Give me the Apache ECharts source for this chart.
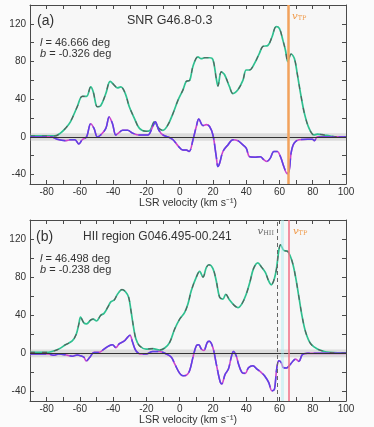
<!DOCTYPE html>
<html>
<head>
<meta charset="utf-8">
<script src="https://cdn.jsdelivr.net/npm/echarts@6/dist/echarts.min.js"></script>
<style>
html,body{margin:0;padding:0;background:#fbfbfb;}
#c{width:374px;height:427px;}
</style>
</head>
<body>
<div id="c"></div>
<script>
// ---- Data ----
var xTicks = [-80,-70,-60,-50,-40,-30,-20,-10,0,10,20,30,40,50,60,70,80,90,100];
var xLabels = [-80,-60,-40,-20,0,20,40,60,80,100];
var yTicks = [-40,-20,0,20,40,60,80,100,120];
var yLabels = [-40,0,40,80,120];

// Panel (a) SNR G46.8-0.3 : emission
var velEmA = [-90,-80,-75,-71.7,-68.7,-65.7,-61.6,-58.6,-56,-53.5,-52,-49.5,-47.5,-44.4,-41.8,-39.4,-37.4,-35.4,-32.7,-30.3,-27.3,-24.2,-20.2,-17.8,-15.2,-12.5,-10.1,-7,-4,-1,2,4,6,8,11,13,15,18,20,22,23,25,27,30,32,35,38,40,42,45,48,50,53,55.5,58,60,62,63.6,65,67,69,70.7,72.7,75,77.8,80.8,82.8,86.9,90,95,100];
var tbEmA  = [1,1,1,4,9,16,32,43,43,53,48,32,33,46,59,55,52,53,46,32,20,9,6,7,16,9,7,13,25,39,50,59,60,75,85,83,84,84,82,62,54,69,66,53,46,50,60,71,71,78,89,96,97,106,117,115,103,92,80,88,83,67,46,25,9,2,3,2,1,0,0];
// Panel (a) : absorption
var velAbA = [-90,-80,-77,-73.7,-68.7,-65.7,-63,-60.6,-58.6,-56,-53.5,-51.5,-49.5,-47.5,-44.4,-42.4,-40.4,-38.4,-36.8,-34.3,-31.3,-28.3,-24.2,-19.2,-16.2,-14.7,-12.5,-10,-7,-4,-1,2,4,5.7,8,10,11.5,14,16,18,20,22,23,24,26,29,32,35,37.4,40,42,45,48.5,50.5,52.5,54.5,56.6,58.6,60.6,62.6,64.6,65.9,67,68.7,71.7,76.8,79.8,81,82.8,90,100];
var tbAbA  = [0,0,0,-2.5,-4,-3,-3,-7.5,-3,0,14,9,0,2,9,21,14,2,4,7,7,4,2,2,11,16,7,2,0,-3,-9.5,-14,-14,-15.5,-3,11,19,12,13,11,2,-21,-31.5,-28,-15.5,-8.5,-3,-4,-7.5,-12,-21,-21.5,-21,-24,-26,-22.5,-15.5,-15.5,-21,-31.5,-39,-35,-17,-7,-3,-2.5,-2.5,-4,0,0,0];

// Panel (b) HII region G046.495-00.241 : emission
var velEmB = [-90,-80,-76.8,-72.7,-68.7,-64.6,-62.2,-60.6,-59.6,-57.6,-56,-53.5,-52,-50,-47.5,-45.5,-43.4,-41.4,-39.4,-37.4,-34.7,-32.7,-30.7,-29.3,-27.7,-26.3,-24.2,-20.2,-16.2,-12,-9,-6,-3,0,3,5,7,10,12,14,16,17.6,20,22,24,26,27.7,30,33,35,37.4,40,42.4,44.4,47,49,51.5,53.5,55,57.6,59.6,60.6,62.6,65,67.7,69.7,71.7,73.7,75.8,78.8,82.8,86.9,90,95,100];
var tbEmB  = [1,1,2,4.5,9,13,20,31,38,32,31,35,36,34,40,42,48,54,56,62,67,65,59,45,27,15,8,4.5,5,3.5,5.6,11.6,25.6,36,43,52,66,80,86,80,90,93,89,76,59,57,62,56,50,48,52,62,76,89,95,91,85,76,72,83,108,114,108,107,96,80,59,38,22,10,4.5,2,1,0.5,0.5];
// Panel (b) : absorption
var velAbB = [-90,-78.8,-75.8,-72.7,-68.7,-64.6,-61.6,-59.6,-57.6,-56.2,-54,-51.5,-48.5,-45.5,-42.4,-40.4,-38.4,-36.4,-33.3,-31.3,-29.9,-28.3,-26.3,-23.2,-20.2,-16.2,-12,-8,-5,-3,0,2,4,6,8,10,11.5,13,14.5,16.6,17.8,20,22,24.2,25.3,27.3,29.3,31,32.3,34,35.3,37.4,39.4,41.4,44,46.5,49,51,53.5,55.5,57,58.2,59.6,61,62.2,64.2,66.3,68.3,69.7,71.7,73.7,76.8,85,100];
var tbAbB  = [-0.7,-0.7,-2,-0.7,-1.5,-3,-1.7,-2.5,-4,-8,-4,1,1,4.5,8,9,6,10,13,17,19,11.6,2.8,-0.7,-0.7,2,2,-0.7,-4,-11,-21,-23.5,-23,-18,-4,8,9,4.5,3,11.6,12.6,6,-11,-29,-32,-22,-16.5,-4,2,-2.5,-11,-20,-21,-15,-13,-16.5,-20,-23.5,-30.5,-39.3,-37.5,-18,-7.7,-9.5,-14.7,-15.4,-12,-7.7,-6,-8.4,-1.4,0,0,0];

// reference velocities (vertical lines)
var vTP_A = 65.2;
var vHII_B = 58.5;
var vCyan_B = 61.6;
var vTP_B = 65.7;
var noiseBand = 4;

function zip(xs, ys){ return xs.map(function(x,i){ return [x, ys[i]]; }); }

var FONT = 'Liberation Sans, Arial, sans-serif';
var AX = '#4a4a4a';

function xAxisCfg(gi, pos){
  var bottom = pos === 'bottom';
  return {
    type:'value', gridIndex:gi, position:pos, min:-90, max:100,
    axisLine:{show:true, onZero:false, lineStyle:{color:AX, width:1}},
    axisTick:{show:true, inside:true, length:4, lineStyle:{color:AX}, customValues:xTicks},
    axisLabel:{show:bottom, customValues:xLabels, fontSize:10, color:'#333', margin:3, fontFamily:FONT},
    splitLine:{show:false},
    name: bottom ? 'LSR velocity (km s\u207B\u00B9)' : '',
    nameLocation:'middle', nameGap:14,
    nameTextStyle:{fontSize:10.5, color:'#333', fontFamily:FONT}
  };
}
function yAxisCfg(gi, pos){
  var left = pos === 'left';
  return {
    type:'value', gridIndex:gi, position:pos, min:-50, max:140,
    axisLine:{show:true, onZero:false, lineStyle:{color:AX, width:1}},
    axisTick:{show:true, inside:true, length:4, lineStyle:{color:AX}, customValues:yTicks},
    axisLabel:{show:left, customValues:yLabels, fontSize:10, color:'#333', margin:4, fontFamily:FONT},
    splitLine:{show:false},
    name: left ? 'HI brightness temperature (K)' : '',
    nameLocation:'middle', nameGap:17,
    nameTextStyle:{fontSize:10.5, color:'#333', fontFamily:FONT}
  };
}

function emSeries(xi, yi, data){
  return [
    {type:'line', xAxisIndex:xi, yAxisIndex:yi, data:data, smooth:0.35, symbol:'none',
     lineStyle:{color:'#2fc090', width:1.7}, z:3},
    {type:'line', xAxisIndex:xi, yAxisIndex:yi, data:data, smooth:0.35, symbol:'none',
     lineStyle:{color:'#5a5a5a', width:1.1, type:[5,7]}, z:4}
  ];
}
function abSeries(xi, yi, data){
  return [
    {type:'line', xAxisIndex:xi, yAxisIndex:yi, data:data, smooth:0.35, symbol:'none',
     lineStyle:{color:'#cc44cc', width:1.6}, z:3},
    {type:'line', xAxisIndex:xi, yAxisIndex:yi, data:data, smooth:0.35, symbol:'none',
     lineStyle:{color:'#5a44e6', width:1.5, type:[16,4]}, z:4}
  ];
}
function baseSeries(xi, yi, vlines){
  return {
    type:'line', xAxisIndex:xi, yAxisIndex:yi, data:[], symbol:'none', silent:true, z:2,
    markArea:{silent:true, itemStyle:{color:'rgba(170,170,170,0.35)'},
      data:[[{yAxis:-noiseBand},{yAxis:noiseBand}]]},
    markLine:{silent:true, symbol:'none', animation:false, label:{show:false},
      data:[{yAxis:0, lineStyle:{color:'#333', width:1, type:'solid'}}].concat(vlines)}
  };
}

var chart = echarts.init(document.getElementById('c'), null, {renderer:'canvas'});
var option = {
  animation:false,
  backgroundColor:'#fbfbfb',
  grid:[
    {left:30, top:5, width:316, height:179, show:true, backgroundColor:'#f7f7f7', borderWidth:0, containLabel:false, outerBoundsMode:'none'},
    {left:30, top:220, width:316, height:181, show:true, backgroundColor:'#f7f7f7', borderWidth:0, containLabel:false, outerBoundsMode:'none'}
  ],
  xAxis:[xAxisCfg(0,'bottom'), xAxisCfg(0,'top'), xAxisCfg(1,'bottom'), xAxisCfg(1,'top')],
  yAxis:[yAxisCfg(0,'left'), yAxisCfg(0,'right'), yAxisCfg(1,'left'), yAxisCfg(1,'right')],
  series:[].concat(
    [baseSeries(0,0,[{xAxis:vTP_A, lineStyle:{color:'#f2a25c', width:2.5, type:'solid'}}])],
    emSeries(0,0,zip(velEmA,tbEmA)),
    abSeries(0,0,zip(velAbA,tbAbA)),
    [baseSeries(2,2,[
      {xAxis:vCyan_B, lineStyle:{color:'rgba(170,235,240,0.45)', width:3, type:'solid'}},
      {xAxis:vHII_B, lineStyle:{color:'#666', width:1, type:[4,3]}},
      {xAxis:vTP_B, lineStyle:{color:'#ef6f86', width:1.5, type:'solid'}}
    ])],
    emSeries(2,2,zip(velEmB,tbEmB)),
    abSeries(2,2,zip(velAbB,tbAbB))
  )
};
chart.setOption(option);

// text annotations; line labels positioned through the chart's own scales
var pA = chart.convertToPixel({xAxisIndex:0, yAxisIndex:0}, [vTP_A, 0]);
var pBh = chart.convertToPixel({xAxisIndex:2, yAxisIndex:2}, [vHII_B, 0]);
var pBt = chart.convertToPixel({xAxisIndex:2, yAxisIndex:2}, [vTP_B, 0]);

function vlab(x, y, sub, color, align){
  return {type:'text', x:x, y:y, style:{
    text:'{v|v}{s|' + sub + '}', align:align || 'left', verticalAlign:'middle',
    rich:{v:{fontFamily:'DejaVu Serif, serif', fontStyle:'italic', fontSize:10, fill:color},
          s:{fontFamily:'DejaVu Serif, serif', fontSize:6.5, fill:color, padding:[5,0,0,0]}}
  }};
}
function txt(x, y, s, size){
  return {type:'text', x:x, y:y, style:{text:s, fontFamily:FONT, fontSize:size, fill:'#333', verticalAlign:'middle'}};
}
function lb(x, y, letter, rest){
  return {type:'text', x:x, y:y, style:{
    text:'{i|' + letter + '}{n|' + rest + '}', verticalAlign:'middle',
    rich:{i:{fontFamily:FONT, fontStyle:'italic', fontSize:11, fill:'#333'},
          n:{fontFamily:FONT, fontSize:11, fill:'#333'}}
  }};
}

chart.setOption({graphic:[
  txt(37, 21, '(a)', 14),
  txt(127, 21, 'SNR G46.8-0.3', 12.5),
  lb(40, 43, 'l', ' = 46.666 deg'),
  lb(40, 54, 'b', ' = -0.326 deg'),
  vlab(pA[0] + 4, 16, 'TP', '#f09a4a'),
  txt(36, 237, '(b)', 14),
  txt(83, 237, 'HII region G046.495-00.241', 12),
  lb(40, 259, 'l', ' = 46.498 deg'),
  lb(40, 270, 'b', ' = -0.238 deg'),
  vlab(pBh[0] - 3, 231, 'HII', '#666', 'right'),
  vlab(pBt[0] + 4, 231, 'TP', '#f09a4a')
]});
</script>
</body>
</html>
